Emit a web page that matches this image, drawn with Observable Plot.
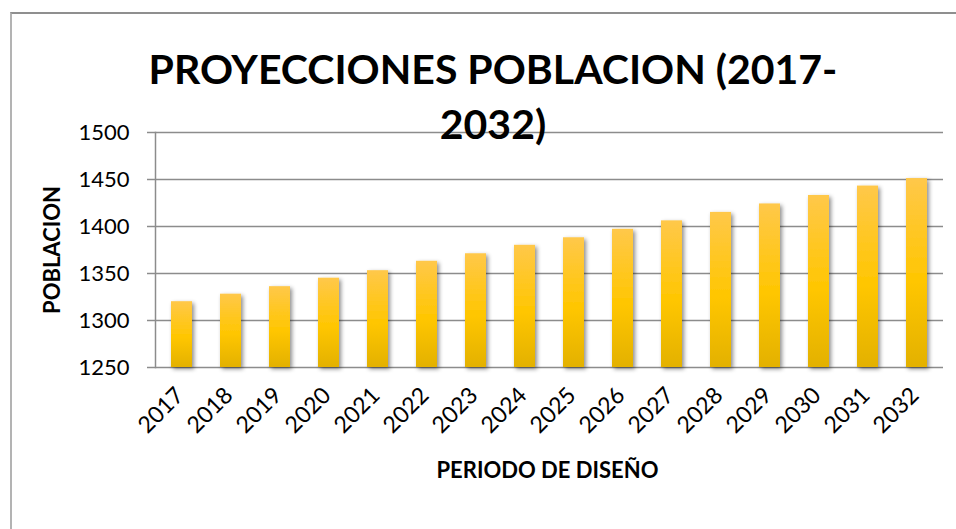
<!DOCTYPE html>
<html><head><meta charset="utf-8">
<script src="https://cdn.jsdelivr.net/npm/d3@7"></script>
<script src="https://cdn.jsdelivr.net/npm/@observablehq/plot@0.6"></script>
<style>
html,body{margin:0;padding:0;background:#fff;}
#wrap{position:relative;width:956px;height:529px;overflow:hidden;font-family:Lato,sans-serif;}
#chart{position:absolute;left:0;top:0;}
#frame{position:absolute;left:10px;top:12px;width:1000px;height:600px;border-left:2px solid #b3b3b3;border-top:2px solid #8f8f8f;pointer-events:none;}
#title{position:absolute;left:0;top:41px;width:986px;text-align:center;font-weight:700;font-size:41px;line-height:55px;color:#000;white-space:nowrap;}
</style></head><body>
<div id="wrap"><div id="chart"></div><div id="frame"></div><div id="title"></div></div>
<script>
const years = ["2017","2018","2019","2020","2021","2022","2023","2024","2025","2026","2027","2028","2029","2030","2031","2032"];
const population = [1320,1328,1336,1345,1353,1363,1371,1380,1388,1397,1406,1415,1424,1433,1443,1451];
const yTicks = [1250,1300,1350,1400,1450,1500];
const titleLines = ["PROYECCIONES POBLACION (2017-","2032)"];
const xLabel = "PERIODO DE DISEÑO";
const yLabel = "POBLACION";

const data = years.map((year, i) => ({year, value: population[i]}));

const chart = Plot.plot({
  width: 956, height: 529,
  marginLeft: 155, marginRight: 13, marginTop: 132, marginBottom: 162,
  style: {fontFamily: "Lato, sans-serif", fontSize: "22px", color: "#000", background: "transparent", overflow: "visible"},
  x: {domain: years, paddingInner: 0.574, paddingOuter: 0.287, label: null},
  y: {domain: [1250, 1500], label: null},
  marks: [
    Plot.gridY(yTicks, {stroke: "#8c8c8c", strokeOpacity: 1, strokeWidth: 1.5}),
    Plot.frame({anchor: "left", stroke: "#8c8c8c", strokeWidth: 1.5}),
    Plot.barY(data, {x: "year", y1: 1250, y2: "value", fill: "url(#barGrad)"}),
    Plot.axisY({ticks: yTicks, tickFormat: d => String(d), tickSize: 8, tickPadding: 18, stroke: "#8c8c8c", strokeWidth: 1.5, fontSize: 22, label: null}),
    Plot.axisX({tickSize: 0, tickRotate: -45, tickPadding: 24, dx: -2, fontSize: 23, label: null}),
    Plot.text([yLabel], {text: d => d, frameAnchor: "left", rotate: -90, dx: -103, fontWeight: "bold", fontSize: 22, textAnchor: "middle", lineAnchor: "middle"}),
    Plot.text([xLabel], {text: d => d, frameAnchor: "bottom", dx: -2, dy: 103, fontWeight: "bold", fontSize: 22, textAnchor: "middle", lineAnchor: "middle"})
  ]
});

const ns = "http://www.w3.org/2000/svg";
const defs = document.createElementNS(ns, "defs");
defs.innerHTML = '<linearGradient id="barGrad" x1="0" y1="0" x2="0" y2="1">' +
  '<stop offset="0" stop-color="#FFC84A"/><stop offset="0.55" stop-color="#FFC600"/><stop offset="1" stop-color="#E3B100"/>' +
  '</linearGradient>' +
  '<filter id="barShadow" x="-60%" y="-10%" width="220%" height="130%">' +
  '<feDropShadow dx="2" dy="2" stdDeviation="2.2" flood-color="#000" flood-opacity="0.45"/></filter>';
chart.insertBefore(defs, chart.firstChild);
chart.querySelectorAll('g[aria-label="bar"]').forEach(g => g.setAttribute("filter", "url(#barShadow)"));
document.getElementById("chart").appendChild(chart);

const t = document.getElementById("title");
titleLines.forEach((line, i) => { if (i) t.appendChild(document.createElement("br")); t.appendChild(document.createTextNode(line)); });
</script>
</body></html>
